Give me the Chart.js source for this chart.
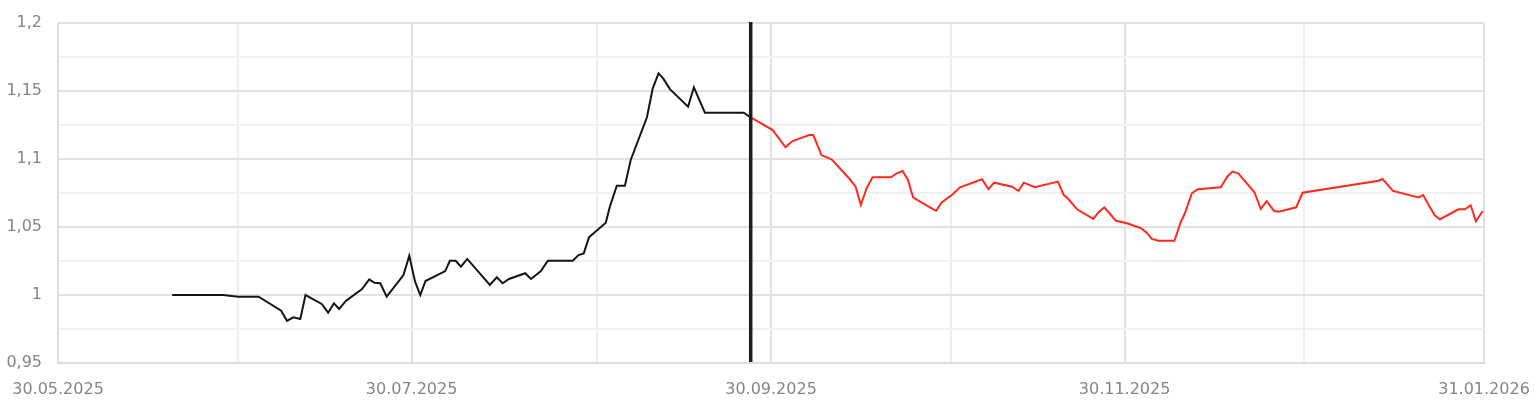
<!DOCTYPE html>
<html>
<head>
<meta charset="utf-8">
<script src="https://cdn.jsdelivr.net/npm/chart.js@4/dist/chart.umd.min.js"></script>
<style>
  html, body { margin: 0; padding: 0; background: #ffffff; }
  #wrap { width: 1535px; height: 400px; }
</style>
</head>
<body>
<div id="wrap"><canvas id="c" width="1535" height="400"></canvas></div>
<script>
// x values are days counted from 30.05.2025
const startDate = '30.05.2025';

const blackDays = [19.7, 28.5, 31.1, 34.6, 38.5, 39.5, 40.6, 41.8, 42.7, 45.5, 46.6, 47.6, 48.5, 49.7,
  52.4, 53.7, 54.6, 55.6, 56.7, 59.6, 60.6, 61.6, 62.5, 63.4, 66.8, 67.6, 68.6, 69.5, 70.6, 74.5,
  75.7, 76.7, 77.8, 80.6, 81.6, 83.3, 84.5, 88.8, 89.8, 90.7, 91.6, 94.5, 95.2, 96.4, 97.8, 98.8,
  101.6, 102.6, 103.6, 104.4, 105.6, 108.7, 109.7, 111.6, 118.3, 119.5];
const blackValues = [1.000, 1.000, 0.9988, 0.9988, 0.9885, 0.9810, 0.9836, 0.9824, 1.000, 0.9934, 0.9870, 0.9939, 0.9897, 0.9958,
  1.0042, 1.0115, 1.0090, 1.0086, 0.9988, 1.0147, 1.0289, 1.0098, 1.000, 1.0103, 1.0176, 1.0252, 1.0252, 1.0208, 1.0265, 1.0074,
  1.0130, 1.0086, 1.0118, 1.0160, 1.0118, 1.0176, 1.0252, 1.0252, 1.0294, 1.0306, 1.0424, 1.0532, 1.0649, 1.0804, 1.0804, 1.0993,
  1.1307, 1.1520, 1.1630, 1.1593, 1.1512, 1.1385, 1.1527, 1.1340, 1.1340, 1.1306];

const redDays = [119.5, 123.3, 125.5, 126.7, 129.6, 130.3, 131.7, 133.5, 136.6, 137.6, 138.5, 139.5, 140.5, 143.7,
  144.7, 145.7, 146.6, 147.5, 151.0, 151.5, 152.4, 154.4, 155.6, 159.4, 160.5, 161.5, 164.6, 165.7, 166.6, 168.5,
  172.5, 173.5, 174.3, 175.8, 178.6, 179.6, 180.5, 182.5, 184.4, 186.9, 187.8, 188.7, 189.8, 192.6, 193.6, 194.4,
  195.6, 196.6, 200.6, 201.7, 202.6, 203.6, 206.4, 207.5, 208.5, 209.8, 210.6, 213.6, 214.7, 227.8, 228.5, 230.3,
  234.7, 235.5, 236.7, 237.5, 238.4, 241.6, 242.7, 243.7, 244.6, 245.8];
const redValues = [1.1306, 1.1213, 1.1086, 1.1132, 1.1176, 1.1176, 1.1029, 1.0996, 1.0851, 1.0797, 1.0662, 1.0785, 1.0865, 1.0865,
  1.0895, 1.0912, 1.0850, 1.0718, 1.0630, 1.0620, 1.0679, 1.0743, 1.0792, 1.0851, 1.0779, 1.0826, 1.0796, 1.0765, 1.0826, 1.0792,
  1.0834, 1.0735, 1.0706, 1.0630, 1.0559, 1.0613, 1.0645, 1.0546, 1.0527, 1.0490, 1.0458, 1.0412, 1.0399, 1.0399, 1.0527, 1.0601,
  1.0748, 1.0777, 1.0792, 1.0870, 1.0907, 1.0895, 1.0755, 1.0632, 1.0690, 1.0618, 1.0613, 1.0645, 1.0752, 1.0840, 1.0853, 1.0765,
  1.0718, 1.0735, 1.0643, 1.0586, 1.0557, 1.0630, 1.0630, 1.0660, 1.0542, 1.0618];

const markerDay = 119.5;

const xTickDays = [0, 61, 123, 184, 246];
const xTickLabels = ['30.05.2025', '30.07.2025', '30.09.2025', '30.11.2025', '31.01.2026'];
const xMinorGridDays = [31, 93, 154, 215];

const yTickValues = [0.95, 0.975, 1.0, 1.025, 1.05, 1.075, 1.1, 1.125, 1.15, 1.175, 1.2];
const yLabelValues = [0.95, 1.0, 1.05, 1.1, 1.15, 1.2];

const FONT = { family: '"DejaVu Sans", sans-serif', size: 16 };
const LABEL_COLOR = '#858585';

function toPoints(xs, ys) { return xs.map((x, i) => ({ x: x, y: ys[i] })); }
function isYMajor(v) { return yLabelValues.some(m => Math.abs(m - v) < 1e-6); }
function fmtY(v) {
  let s = (Math.round(v * 1000) / 1000).toString();
  return s.replace('.', ',');
}

const markerPlugin = {
  id: 'marker',
  afterDatasetsDraw(chart) {
    const xs = chart.scales.x;
    const area = chart.chartArea;
    const px = xs.getPixelForValue(markerDay);
    const ctx = chart.ctx;
    ctx.save();
    ctx.strokeStyle = '#1e1e1e';
    ctx.lineWidth = 3.5;
    ctx.beginPath();
    ctx.moveTo(px, area.top - 1);
    ctx.lineTo(px, area.bottom - 1);
    ctx.stroke();
    ctx.restore();
  }
};

const allXTicks = xTickDays.concat(xMinorGridDays).sort((a, b) => a - b);

new Chart(document.getElementById('c'), {
  type: 'line',
  data: {
    datasets: [
      {
        data: toPoints(blackDays, blackValues),
        borderColor: '#151515',
        borderWidth: 2,
        pointRadius: 0,
        tension: 0,
        fill: false
      },
      {
        data: toPoints(redDays, redValues),
        borderColor: '#ff2a1e',
        borderWidth: 2,
        pointRadius: 0,
        tension: 0,
        fill: false
      }
    ]
  },
  options: {
    responsive: false,
    animation: false,
    devicePixelRatio: 1,
    layout: { padding: { top: 23, right: 51, left: 0, bottom: 0 } },
    plugins: { legend: { display: false }, tooltip: { enabled: false } },
    scales: {
      x: {
        type: 'linear',
        min: 0,
        max: 246,
        afterBuildTicks(scale) { scale.ticks = allXTicks.map(v => ({ value: v })); },
        afterFit(scale) { scale.height = 37; scale.paddingLeft = 0; scale.paddingRight = 0; },
        ticks: {
          autoSkip: false,
          maxRotation: 0,
          minRotation: 0,
          padding: 17,
          color: LABEL_COLOR,
          font: FONT,
          callback(value) {
            const i = xTickDays.indexOf(value);
            return i >= 0 ? xTickLabels[i] : '';
          }
        },
        grid: {
          drawTicks: false,
          lineWidth: 2,
          color(ctx) {
            const v = ctx.tick ? ctx.tick.value : null;
            return xTickDays.indexOf(v) >= 0 ? '#e2e2e2' : '#eeeeee';
          }
        },
        border: { display: true, color: '#dedede', width: 2 }
      },
      y: {
        type: 'linear',
        min: 0.95,
        max: 1.2,
        afterBuildTicks(scale) { scale.ticks = yTickValues.map(v => ({ value: v })); },
        afterFit(scale) { scale.width = 58; scale.paddingTop = 0; scale.paddingBottom = 0; },
        ticks: {
          autoSkip: false,
          padding: 16,
          color: LABEL_COLOR,
          font: FONT,
          callback(value) { return isYMajor(value) ? fmtY(value) : ''; }
        },
        grid: {
          drawTicks: false,
          lineWidth: 2,
          color(ctx) {
            const v = ctx.tick ? ctx.tick.value : null;
            return (v !== null && isYMajor(v)) ? '#e2e2e2' : '#f1f1f1';
          }
        },
        border: { display: true, color: '#dedede', width: 2 }
      }
    }
  },
  plugins: [markerPlugin]
});
</script>
</body>
</html>
